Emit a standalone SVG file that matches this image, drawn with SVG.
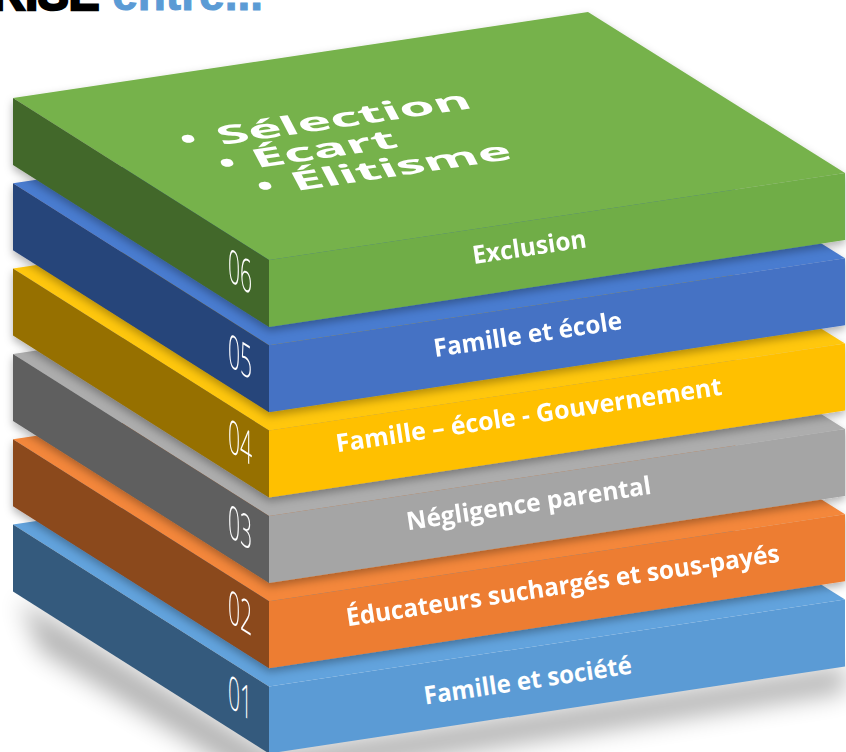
<svg xmlns="http://www.w3.org/2000/svg" width="846" height="752" viewBox="0 0 846 752">
  <defs>
    <style>
      .lbl { font-family: "Open Sans", "Liberation Sans", sans-serif; font-weight: 700; font-size: 25px; fill: #fff; text-anchor: middle; }
      .num { font-family: "Open Sans", "Liberation Sans", sans-serif; font-weight: 300; font-size: 46px; fill: #fff; }
      .bul { font-family: "Open Sans", "Liberation Sans", sans-serif; font-weight: 700; font-size: 26px; fill: #fff; }
      .ttl { font-family: "Liberation Sans", Arial, sans-serif; font-weight: 700; font-size: 46px; }
    </style>
    <filter id="sh" x="-10%" y="-10%" width="120%" height="140%">
      <feDropShadow dx="0" dy="4" stdDeviation="4" flood-color="#000" flood-opacity="0.3"/>
    </filter>
    <filter id="blur" x="-20%" y="-50%" width="140%" height="200%">
      <feGaussianBlur stdDeviation="12"/>
    </filter>
    <polygon id="topf" points="13,98 588,12 845,173 269,260"/>
    <polygon id="leftf" points="13,98 269,260 269,327 13,165"/>
    <polygon id="rightf" points="269,260 845,173 845,240 269,327"/>
  </defs>

  <rect width="846" height="752" fill="#ffffff"/>

  <g id="title">
    <text class="ttl" x="-8" y="10"><tspan fill="#000000" stroke="#000000" stroke-width="2.5">RISE </tspan><tspan fill="#5B9BD5" stroke="#5B9BD5" stroke-width="1">entre...</tspan></text>
  </g>

  <g id="ground-shadow" filter="url(#blur)" fill="#000" opacity="0.3">
    <polygon points="20,600 269,752 269,790 40,650"/>
    <polygon points="269,752 845,666 845,692 269,782"/>
  </g>

  <g id="slab-01" transform="translate(0,426.5)">
    <use href="#topf" fill="#62A3DD"/>
    <use href="#leftf" fill="#345A7D"/>
    <use href="#rightf" fill="#5B9BD5"/>
    <text class="num" transform="matrix(0.46,0.29,0,1,228,280)">01</text>
    <text class="lbl" transform="translate(529,262.5) rotate(-8.5)" textLength="210" lengthAdjust="spacingAndGlyphs">Famille et société</text>
  </g>

  <g id="slab-02" transform="translate(0,341.2)" filter="url(#sh)">
    <use href="#topf" fill="#F4873A"/>
    <use href="#leftf" fill="#8B481E"/>
    <use href="#rightf" fill="#ED7D31"/>
    <text class="num" transform="matrix(0.46,0.29,0,1,228,280)">02</text>
    <text class="lbl" transform="translate(564,252.8) rotate(-8.5)" textLength="438" lengthAdjust="spacingAndGlyphs">Éducateurs suchargés et sous-payés</text>
  </g>

  <g id="slab-03" transform="translate(0,255.9)" filter="url(#sh)">
    <use href="#topf" fill="#ADADAD"/>
    <use href="#leftf" fill="#5F5F5F"/>
    <use href="#rightf" fill="#A5A5A5"/>
    <text class="num" transform="matrix(0.46,0.29,0,1,228,280)">03</text>
    <text class="lbl" transform="translate(530,256.1) rotate(-8.5)" textLength="247" lengthAdjust="spacingAndGlyphs">Négligence parental</text>
  </g>

  <g id="slab-04" transform="translate(0,170.6)" filter="url(#sh)">
    <use href="#topf" fill="#FFC70F"/>
    <use href="#leftf" fill="#967000"/>
    <use href="#rightf" fill="#FFC000"/>
    <text class="num" transform="matrix(0.46,0.29,0,1,228,280)">04</text>
    <text class="lbl" transform="translate(530,252.9) rotate(-8.5)" textLength="390" lengthAdjust="spacingAndGlyphs">Famille – école - Gouvernement</text>
  </g>

  <g id="slab-05" transform="translate(0,85.3)" filter="url(#sh)">
    <use href="#topf" fill="#4A7BD0"/>
    <use href="#leftf" fill="#27447A"/>
    <use href="#rightf" fill="#4472C4"/>
    <text class="num" transform="matrix(0.46,0.29,0,1,228,280)">05</text>
    <text class="lbl" transform="translate(529,257.7) rotate(-8.5)" textLength="190" lengthAdjust="spacingAndGlyphs">Famille et école</text>
  </g>

  <g id="slab-06" filter="url(#sh)">
    <use href="#topf" fill="#76B24C"/>
    <use href="#leftf" fill="#43682B"/>
    <use href="#rightf" fill="#70AD47"/>
    <text class="num" transform="matrix(0.46,0.29,0,1,228,280)">06</text>
    <text class="lbl" transform="translate(530.5,255.5) rotate(-8.5)" textLength="115" lengthAdjust="spacingAndGlyphs">Exclusion</text>
    <g id="bullets">
      <text class="bul" transform="matrix(1.6,-0.24,0.5,0.95,185,149)">•</text>
      <text class="bul" transform="matrix(2.1,-0.31,0.5,0.95,222,145)" textLength="120" lengthAdjust="spacingAndGlyphs">Sélection</text>
      <text class="bul" transform="matrix(1.6,-0.24,0.5,0.95,224,173)">•</text>
      <text class="bul" transform="matrix(2.1,-0.31,0.5,0.95,257,168)" textLength="68" lengthAdjust="spacingAndGlyphs">Écart</text>
      <text class="bul" transform="matrix(1.6,-0.24,0.5,0.95,262,196)">•</text>
      <text class="bul" transform="matrix(2.1,-0.31,0.5,0.95,296,191)" textLength="104" lengthAdjust="spacingAndGlyphs">Élitisme</text>
    </g>
  </g>
</svg>
